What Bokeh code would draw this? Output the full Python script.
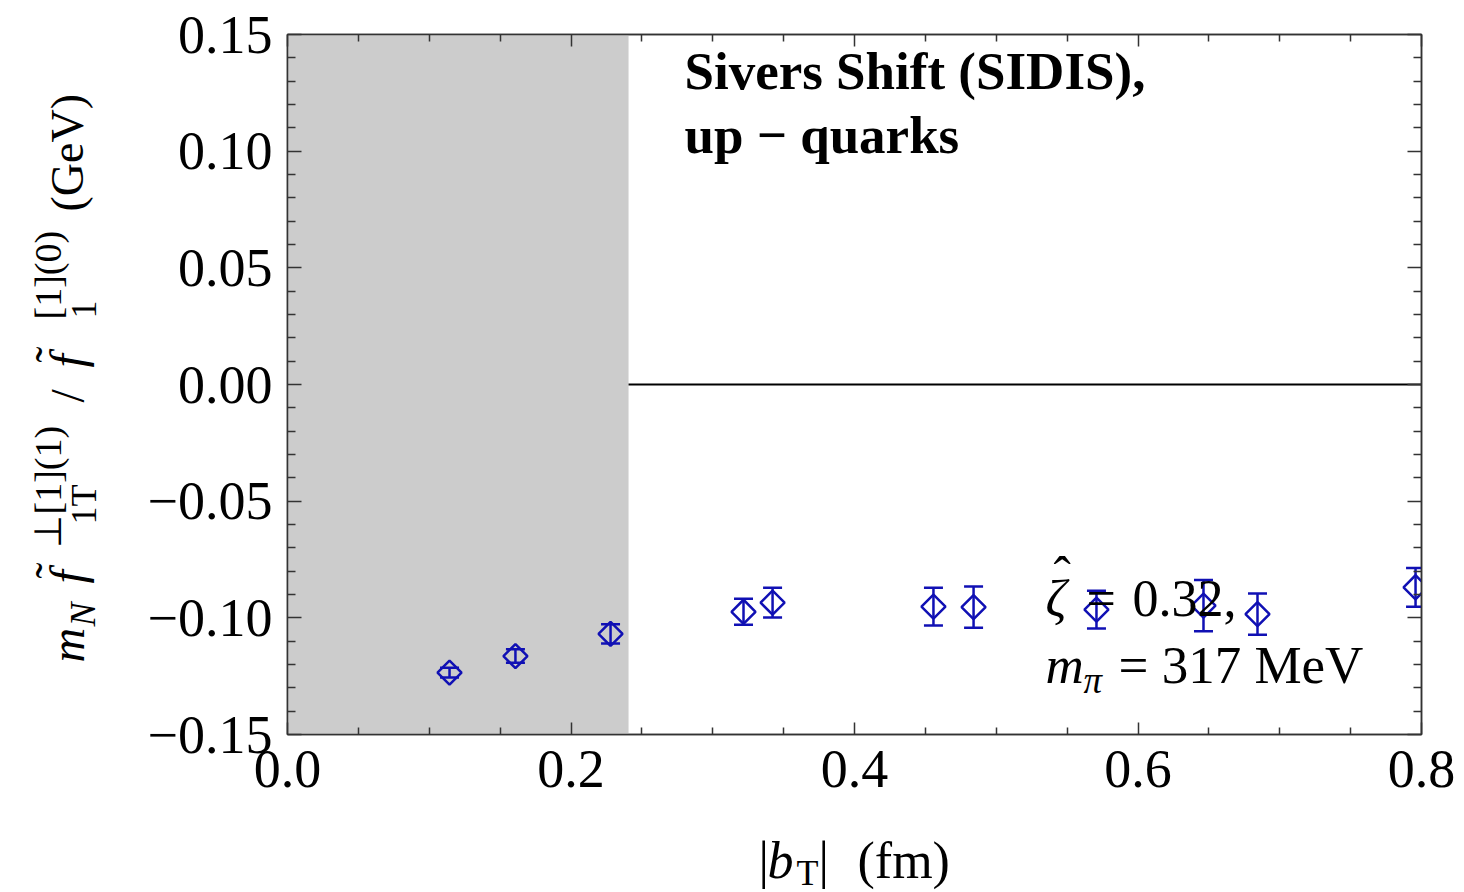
import math
from bokeh.plotting import figure
from bokeh.layouts import column, row
from bokeh.core.properties import value
from bokeh.models import (ColumnDataSource, Whisker, TeeHead, BoxAnnotation,
                          LinearAxis, FixedTicker, CustomJSTickFormatter, Range1d)
from bokeh.embed import file_html
from bokeh.resources import INLINE

# ---- data ----
b_T = [0.1143, 0.1608, 0.2279, 0.3217, 0.3422, 0.4557, 0.4840, 0.5707, 0.6462, 0.6843, 0.7958]
sivers = [-0.1235, -0.1164, -0.1069, -0.0974, -0.0935, -0.0952, -0.0954, -0.0965, -0.0948, -0.0984, -0.0869]
sivers_err = [0.0021, 0.0029, 0.0041, 0.0056, 0.0064, 0.0081, 0.0088, 0.0081, 0.0110, 0.0088, 0.0083]
excluded_bT_max = 0.2406
x_ticks = [0.0, 0.2, 0.4, 0.6, 0.8]
x_minor = [0.05, 0.1, 0.15, 0.25, 0.3, 0.35, 0.45, 0.5, 0.55, 0.65, 0.7, 0.75]
y_ticks = [-0.15, -0.10, -0.05, 0.0, 0.05, 0.10, 0.15]
y_minor = [-0.14, -0.13, -0.12, -0.11, -0.09, -0.08, -0.07, -0.06, -0.04, -0.03, -0.02, -0.01,
           0.01, 0.02, 0.03, 0.04, 0.06, 0.07, 0.08, 0.09, 0.11, 0.12, 0.13, 0.14]

W, H = 1464, 892
LW, BH = 130, 60                 # side strips holding the axis titles
FL, FR, FT, FB = 287, 1421, 34, 734  # frame edges on the page
X0, X1 = 0.0, 0.8
Y0, Y1 = -0.15, 0.15
SERIF = "Liberation Serif"
BLUE = "#1010B4"
AX = "#333333"
C = 0.36  # baseline correction (fraction of font size)


def sx(px):
    return X0 + (px - FL) / (FR - FL) * (X1 - X0)


def sy(py):
    return Y1 - (py - FT) / (FB - FT) * (Y1 - Y0)


MW, MH = W - LW, H - BH
p = figure(width=MW, height=MH, output_backend="svg", toolbar_location=None,
           x_range=Range1d(X0, X1), y_range=Range1d(Y0, Y1),
           min_border_left=FL - LW, min_border_right=W - FR, min_border_top=FT,
           min_border_bottom=MH - FB, x_axis_type=None, y_axis_type=None)
p.grid.visible = False
p.outline_line_color = AX
p.outline_line_width = 1.5
p.background_fill_color = "white"
p.border_fill_color = "white"

xfmt = CustomJSTickFormatter(code="return tick.toFixed(1);")
yfmt = CustomJSTickFormatter(code="""
const v = Math.abs(tick) < 1e-9 ? 0 : tick;
return (v < 0 ? "\\u2212" : "") + Math.abs(v).toFixed(2);
""")
blank = CustomJSTickFormatter(code="return '';")


def style_axis(ax, labels=True):
    ax.axis_line_color = AX
    ax.axis_line_width = 1.5
    ax.major_tick_line_color = AX
    ax.minor_tick_line_color = AX
    ax.major_tick_line_width = 1.5
    ax.minor_tick_line_width = 1.5
    ax.major_tick_out = 0
    ax.minor_tick_out = 0
    ax.major_label_text_font = SERIF
    ax.major_label_text_color = "black"
    if labels:
        ax.major_label_text_font_size = "54px"
    else:
        ax.major_label_text_font_size = "0px"
        ax.major_label_standoff = 0


xt = FixedTicker(ticks=x_ticks, minor_ticks=x_minor)
yt = FixedTicker(ticks=y_ticks, minor_ticks=y_minor)

xb = LinearAxis(ticker=xt, formatter=xfmt)
style_axis(xb)
xb.major_tick_in = 12
xb.minor_tick_in = 7
xb.major_label_standoff = 16
p.add_layout(xb, "below")

xa = LinearAxis(ticker=xt, formatter=blank)
style_axis(xa, labels=False)
xa.major_tick_in = 12
xa.minor_tick_in = 7
p.add_layout(xa, "above")

yl = LinearAxis(ticker=yt, formatter=yfmt)
style_axis(yl)
yl.major_tick_in = 14
yl.minor_tick_in = 8
yl.major_label_standoff = 15
p.add_layout(yl, "left")

yr = LinearAxis(ticker=yt, formatter=blank)
style_axis(yr, labels=False)
yr.major_tick_in = 14
yr.minor_tick_in = 8
p.add_layout(yr, "right")

# excluded (shaded) region
p.add_layout(BoxAnnotation(left=X0, right=excluded_bT_max, fill_color="#cccccc", fill_alpha=1.0,
                           line_color=None, level="underlay"))

# zero line outside the shaded region
p.line(x=[excluded_bT_max, X1], y=[0.0, 0.0], line_color="black", line_width=1.8)

# data with error bars
src = ColumnDataSource(dict(
    x=b_T, y=sivers,
    upper=[v + e for v, e in zip(sivers, sivers_err)],
    lower=[v - e for v, e in zip(sivers, sivers_err)],
))
p.add_layout(Whisker(source=src, base="x", upper="upper", lower="lower", dimension="height",
                     line_color=BLUE, line_width=2.5,
                     upper_head=TeeHead(size=19, line_color=BLUE, line_width=2.5),
                     lower_head=TeeHead(size=19, line_color=BLUE, line_width=2.5)))
p.scatter(x="x", y="y", source=src, marker="square", size=17, angle=math.pi / 4,
          fill_color=None, line_color=BLUE, line_width=2.5)


def put(fig, x, y, text, size, style="normal", angle=0.0):
    fig.text(x=[x], y=[y], text=[text], text_font=value(SERIF), text_font_size=f"{size}px",
             text_font_style=style, text_color="black", angle=angle,
             text_align="left", text_baseline="alphabetic")


def main_text(text, px, py, size, style="normal"):
    put(p, sx(px), sy(py - C * size), text, size, style)


# in-frame annotations
main_text("Sivers Shift (SIDIS),", 684, 90, 53, "bold")
main_text("up \u2212 quarks", 684, 154, 53, "bold")
main_text("\u03b6", 1045, 617, 52, "italic")
main_text("\u02c6", 1053, 594, 52)
main_text("=", 1086, 617, 52)
main_text("0.32,", 1132, 617, 52)
main_text("m", 1045, 684, 53, "italic")
main_text("\u03c0", 1083, 693, 37, "italic")
main_text("= 317 MeV", 1118, 684, 53)


def strip(w, h, **kw):
    f = figure(width=w, height=h, output_backend="svg", toolbar_location=None,
               x_axis_type=None, y_axis_type=None, **kw)
    f.grid.visible = False
    f.outline_line_color = None
    f.background_fill_color = "white"
    f.border_fill_color = "white"
    return f


# left strip: y-axis title (rotated); its frame lines up with the main frame
lf = strip(LW, MH, x_range=Range1d(0, LW), y_range=Range1d(MH - FB, MH - FT),
           min_border_left=0, min_border_right=0, min_border_top=FT, min_border_bottom=MH - FB)
R = math.pi / 2


def ytext(text, bx, py, size, style="normal"):
    put(lf, bx - C * size, MH - py, text, size, style, R)


F = 48
ytext("m", 84, 662, F, "italic")
ytext("N", 95, 626, 36, "italic")
ytext("f", 84, 583, F, "italic")
ytext("\u02dc", 69, 578, F)
ytext("\u22a5[1](1)", 61, 547, 38)
ytext("1T", 96, 524, 36)
ytext("/", 84, 402, F)
ytext("f", 84, 367, F, "italic")
ytext("\u02dc", 69, 362, F)
ytext("[1](0)", 61, 319, 38)
ytext("1", 96, 318, 36)
ytext("(GeV)", 84, 211, 46)

# bottom strip: x-axis title
bf = strip(W, BH, x_range=Range1d(0, W), y_range=Range1d(0, BH), min_border=0)


def xtext(text, px, py, size, style="normal"):
    put(bf, px, H - py + C * size, text, size, style)


xtext("|", 758, 879, 52)
xtext("b", 767, 879, 52, "italic")
xtext("T", 796, 885, 36)
xtext("|", 818, 879, 52)
xtext("(fm)", 857, 879, 52)

layout = column(row(lf, p, spacing=0), bf, spacing=0)
open("out.html", "w").write(file_html(layout, INLINE))
